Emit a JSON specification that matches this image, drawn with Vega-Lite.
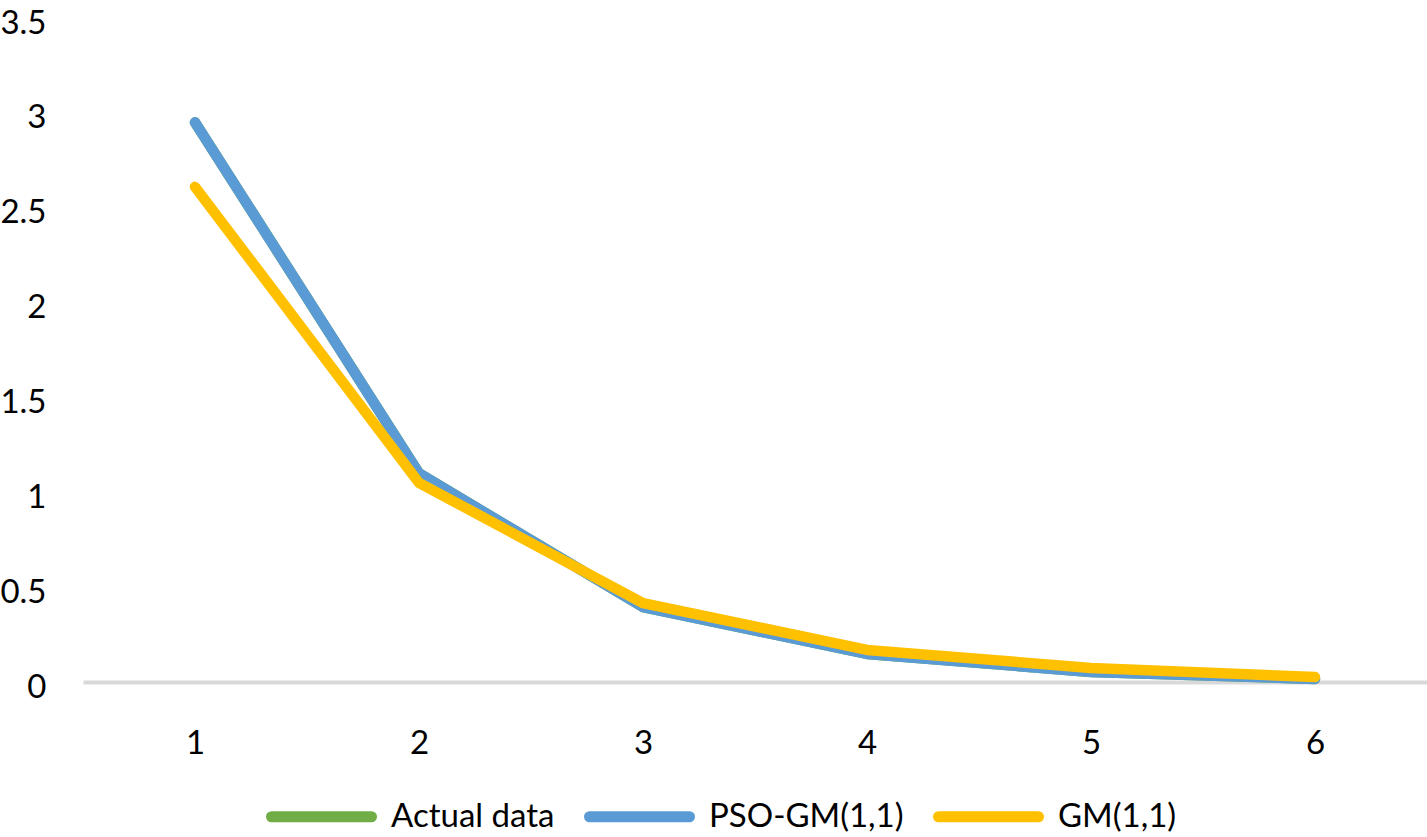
{
  "$schema": "https://vega.github.io/schema/vega-lite/v6.json",
  "autosize": "none",
  "width": 1344,
  "height": 664,
  "padding": {"left": 83, "top": 18, "right": 0, "bottom": 155},
  "background": "white",
  "config": {"view": {"stroke": null}, "font": "Lato"},
  "data": {"values": [
    {"x": "1", "series": "Actual data", "v": 2.95},
    {"x": "2", "series": "Actual data", "v": 1.10},
    {"x": "3", "series": "Actual data", "v": 0.395},
    {"x": "4", "series": "Actual data", "v": 0.148},
    {"x": "5", "series": "Actual data", "v": 0.053},
    {"x": "6", "series": "Actual data", "v": 0.016},
    {"x": "1", "series": "PSO-GM(1,1)", "v": 2.95},
    {"x": "2", "series": "PSO-GM(1,1)", "v": 1.10},
    {"x": "3", "series": "PSO-GM(1,1)", "v": 0.395},
    {"x": "4", "series": "PSO-GM(1,1)", "v": 0.148},
    {"x": "5", "series": "PSO-GM(1,1)", "v": 0.053},
    {"x": "6", "series": "PSO-GM(1,1)", "v": 0.016},
    {"x": "1", "series": "GM(1,1)", "v": 2.61},
    {"x": "2", "series": "GM(1,1)", "v": 1.05},
    {"x": "3", "series": "GM(1,1)", "v": 0.416},
    {"x": "4", "series": "GM(1,1)", "v": 0.169},
    {"x": "5", "series": "GM(1,1)", "v": 0.074},
    {"x": "6", "series": "GM(1,1)", "v": 0.026}
  ]},
  "mark": {"type": "line", "strokeWidth": 10.5, "strokeCap": "round", "strokeJoin": "round"},
  "encoding": {
    "x": {
      "field": "x", "type": "ordinal",
      "scale": {"type": "point", "padding": 0.5},
      "axis": {
        "title": null, "labelAngle": 0, "ticks": false,
        "domainColor": "#d9d9d9", "domainWidth": 4,
        "labelPadding": 45, "labelFontSize": 33, "labelColor": "#000000",
        "labelBaseline": "top", "labelFont": "Lato"
      }
    },
    "y": {
      "field": "v", "type": "quantitative",
      "scale": {"domain": [0, 3.5], "nice": false},
      "axis": {
        "title": null, "values": [0, 0.5, 1, 1.5, 2, 2.5, 3, 3.5], "format": "~g",
        "grid": false, "domain": false, "ticks": false,
        "labelPadding": 37, "labelFontSize": 33, "labelColor": "#000000",
        "labelFont": "Lato", "labelOffset": 5
      }
    },
    "color": {
      "field": "series", "type": "nominal",
      "scale": {"domain": ["Actual data", "PSO-GM(1,1)", "GM(1,1)"], "range": ["#70AD47", "#5B9BD5", "#FFC000"]},
      "legend": {
        "title": null, "orient": "none", "legendX": 183, "legendY": 743, "direction": "horizontal",
        "symbolType": "stroke", "symbolSize": 10000, "symbolStrokeWidth": 11,
        "labelFontSize": 33, "labelColor": "#000000", "labelFont": "Lato",
        "labelOffset": 14, "columnPadding": 12, "labelLimit": 400,
        "encode": {"symbols": {"update": {"strokeCap": {"value": "round"}}}}
      }
    },
    "order": {"field": "series", "sort": "descending"}
  }
}
